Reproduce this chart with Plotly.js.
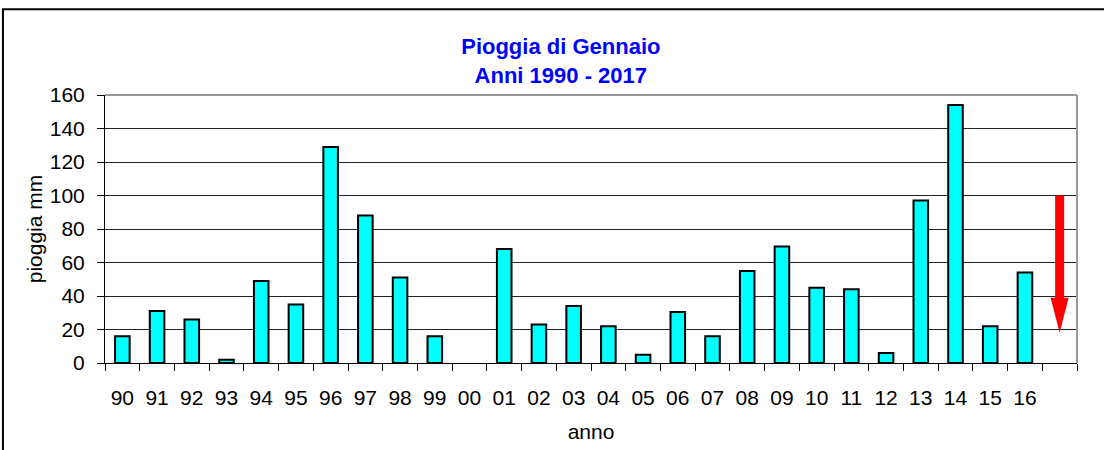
<!DOCTYPE html>
<html>
<head>
<meta charset="utf-8">
<script src="https://cdn.plot.ly/plotly-3.0.1.min.js"></script>
<style>body{margin:0;padding:0;background:#fff;} #chart{width:1104px;height:450px;}</style>
</head>
<body>
<div id="chart"></div>
<script>
// Data
const categories = ['90','91','92','93','94','95','96','97','98','99','00','01','02','03','04','05','06','07','08','09','10','11','12','13','14','15','16','17'];
const tickLabels = ['90','91','92','93','94','95','96','97','98','99','00','01','02','03','04','05','06','07','08','09','10','11','12','13','14','15','16',''];
const rainMM = [16, 31, 26, 2, 49, 35, 129, 88, 51, 16, null, 68, 23, 34, 22, 5, 30.5, 16, 55, 69.5, 45, 44, 6, 97, 154, 22, 54, null];
const arrowCategory = '17';
const arrowFrom = 100;
const arrowTo = 18;

const arrowIdx = categories.indexOf(arrowCategory);
const shaftHalf = 0.13, headHalf = 0.26, headLen = 21;
const headBase = arrowTo + headLen;
const arrowPath = [
  'M', arrowIdx - shaftHalf, arrowFrom,
  'L', arrowIdx + shaftHalf, arrowFrom,
  'L', arrowIdx + shaftHalf, headBase,
  'L', arrowIdx + headHalf, headBase,
  'L', arrowIdx, arrowTo,
  'L', arrowIdx - headHalf, headBase,
  'L', arrowIdx - shaftHalf, headBase, 'Z'
].join(' ');

const trace = {
  type: 'bar',
  x: categories,
  y: rainMM,
  marker: { color: '#00FFFF', line: { color: '#000000', width: 2 } },
  width: 0.42,
  hoverinfo: 'x+y'
};

const font = 'Liberation Sans, Arial, sans-serif';

const layout = {
  width: 1104,
  height: 450,
  margin: { l: 105, r: 27, t: 95, b: 87 },
  paper_bgcolor: '#ffffff',
  plot_bgcolor: '#ffffff',
  showlegend: false,
  bargap: 0.58,
  title: {
    text: '<b>Pioggia di Gennaio<br>Anni 1990 - 2017</b>',
    font: { family: font, size: 22, color: '#0000FF' },
    x: 0.508, xanchor: 'center', xref: 'container',
    y: 1 - 54 / 450, yref: 'container', yanchor: 'middle'
  },
  xaxis: {
    type: 'category',
    categoryorder: 'array',
    categoryarray: categories,
    tickmode: 'array',
    tickvals: categories,
    ticktext: tickLabels,
    tickson: 'boundaries',
    ticks: 'outside',
    ticklen: 7,
    tickcolor: '#000',
    tickwidth: 1,
    showline: true,
    linecolor: '#000',
    linewidth: 1,
    showgrid: false,
    tickfont: { family: font, size: 21, color: '#000' },
    ticklabelstandoff: 16,
    title: { text: 'anno', font: { family: font, size: 21, color: '#000' }, standoff: 16 },
    range: [-0.5, categories.length - 0.5],
    fixedrange: true
  },
  yaxis: {
    range: [0, 160],
    tickvals: [0, 20, 40, 60, 80, 100, 120, 140, 160],
    ticks: 'outside',
    ticklen: 7,
    tickcolor: '#000',
    showline: true,
    linecolor: '#000',
    linewidth: 1,
    showgrid: true,
    gridcolor: '#222222',
    gridwidth: 1,
    zeroline: false,
    tickfont: { family: font, size: 21, color: '#000' },
    ticklabelstandoff: 8,
    title: { text: 'pioggia mm', font: { family: font, size: 21, color: '#000' }, standoff: 1 },
    fixedrange: true
  },
  shapes: [
    { type: 'path', xref: 'x', yref: 'y', path: arrowPath, fillcolor: '#FF0000', line: { width: 0 }, layer: 'above' },
    { type: 'line', xref: 'paper', yref: 'paper', x0: 0, x1: 1, y0: 1, y1: 1, line: { color: '#999999', width: 2 } },
    { type: 'line', xref: 'paper', yref: 'paper', x0: 1, x1: 1, y0: 0, y1: 1, line: { color: '#999999', width: 2 } },
    { type: 'rect', xref: 'paper', yref: 'paper', x0: -0.105, x1: 1.2, y0: -0.4, y1: 1.32, line: { color: '#000000', width: 2 }, fillcolor: 'rgba(0,0,0,0)' }
  ]
};

Plotly.newPlot('chart', [trace], layout, { displayModeBar: false, staticPlot: true });
</script>
</body>
</html>
